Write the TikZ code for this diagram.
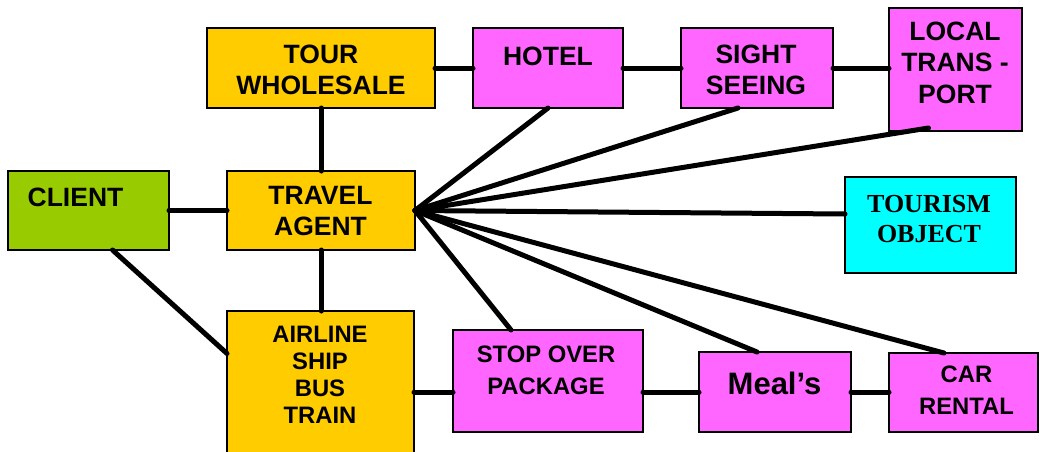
\documentclass[tikz,border=0pt]{standalone}
\usepackage{fontspec}
\setmainfont{Liberation Sans}
\newfontfamily\timesfont{Liberation Serif}
\usepackage{tikz}

\definecolor{tourgold}{HTML}{FFCC00}
\definecolor{servpink}{HTML}{FF66FF}
\definecolor{clientgreen}{HTML}{99CC00}
\definecolor{objcyan}{HTML}{00FFFF}

\begin{document}
\begin{tikzpicture}[x=1pt,y=-1pt,
        box/.style={draw=black, line width=1.8pt, inner sep=0pt, outer sep=0pt},
        lbl/.style={inner sep=0pt, align=center, font=\bfseries\fontsize{26.5}{31.5}\selectfont},
        lowlbl/.style={lbl, font=\bfseries\fontsize{23.8}{32}\selectfont},
        link/.style={black, line width=5pt, line cap=round}]
        \useasboundingbox (0,0) rectangle (1040,451);
        \node [box, fill=tourgold, minimum width=228, minimum height=80] (tw) at (321,68) {};
        \node [lbl] (twtext) at (321,70) {TOUR\\WHOLESALE};
        \node [box, fill=servpink, minimum width=150, minimum height=80] (hotel) at (548,68) {};
        \node [lbl] (hoteltext) at (548,56) {HOTEL};
        \node [box, fill=servpink, minimum width=152, minimum height=80] (sight) at (757,68) {};
        \node [lbl] (sighttext) at (756,70) {SIGHT\\SEEING};
        \node [box, fill=servpink, minimum width=133, minimum height=123] (local) at (955.5,69.5) {};
        \node [lbl] (localtext) at (955,62.5) {LOCAL\\TRANS -\\PORT};
        \node [box, fill=clientgreen, minimum width=161, minimum height=79] (client) at (88.5,210.5) {};
        \node [lbl] (clienttext) at (75.5,197.5) {CLIENT};
        \node [box, fill=tourgold, minimum width=188, minimum height=79] (agent) at (321,210.5) {};
        \node [lbl] (agenttext) at (320.5,211) {TRAVEL\\AGENT};
        \node [box, fill=objcyan, minimum width=171, minimum height=96] (object) at (930.5,225) {};
        \node [lbl, font=\timesfont\bfseries\fontsize{26}{30}\selectfont] (objecttext) at (929,219) {TOURISM\\OBJECT};
        \node [box, fill=tourgold, minimum width=187, minimum height=159] (carrier) at (320.5,390.5) {};
        \node [lowlbl, font=\bfseries\fontsize{23.8}{27}\selectfont] (carriertext) at (320,375) {AIRLINE\\SHIP\\BUS\\TRAIN};
        \node [box, fill=servpink, minimum width=190, minimum height=102] (stop) at (548,381) {};
        \node [lowlbl] (stoptext) at (546,370.5) {STOP OVER\\PACKAGE};
        \node [box, fill=servpink, minimum width=152, minimum height=80] (meals) at (775,392) {};
        \node [lbl, font=\bfseries\fontsize{31}{36}\selectfont] (mealstext) at (774.5,383) {Meal’s};
        \node [box, fill=servpink, minimum width=149, minimum height=79] (car) at (963.5,392.5) {};
        \node [lowlbl] (cartext) at (966.5,390) {CAR\\RENTAL};
        \draw [link] (tw.east) -- (hotel.west);
        \draw [link] (hotel.east) -- (sight.west);
        \draw [link] (sight.east) -- (sight.east -| local.west);
        \draw [link] (tw.south) -- (agent.north);
        \draw [link] (client.east) -- (agent.west);
        \draw [link] (agent.south) -- (agent.south |- carrier.north);
        \draw [link] ([xshift=24pt]client.south) -- ([yshift=37pt]carrier.west);
        \draw [link] (carrier.east |- meals) -- (stop.west |- meals);
        \draw [link] (stop.east |- meals) -- (meals.west);
        \draw [link] (meals.east) -- (meals.east -| car.west);
        \draw [link] (agent.east) -- (hotel.south);
        \draw [link] (agent.east) -- ([xshift=-19pt]sight.south);
        \draw [link] (agent.east) -- ([xshift=-27pt,yshift=3pt]local.south);
        \draw [link] (agent.east) -- ([yshift=11pt]object.west);
        \draw [link] (agent.east) -- ([xshift=-37pt]stop.north);
        \draw [link] (agent.east) -- ([xshift=-18pt]meals.north);
        \draw [link] (agent.east) -- ([xshift=-19.5pt]car.north);
\end{tikzpicture}
\end{document}
